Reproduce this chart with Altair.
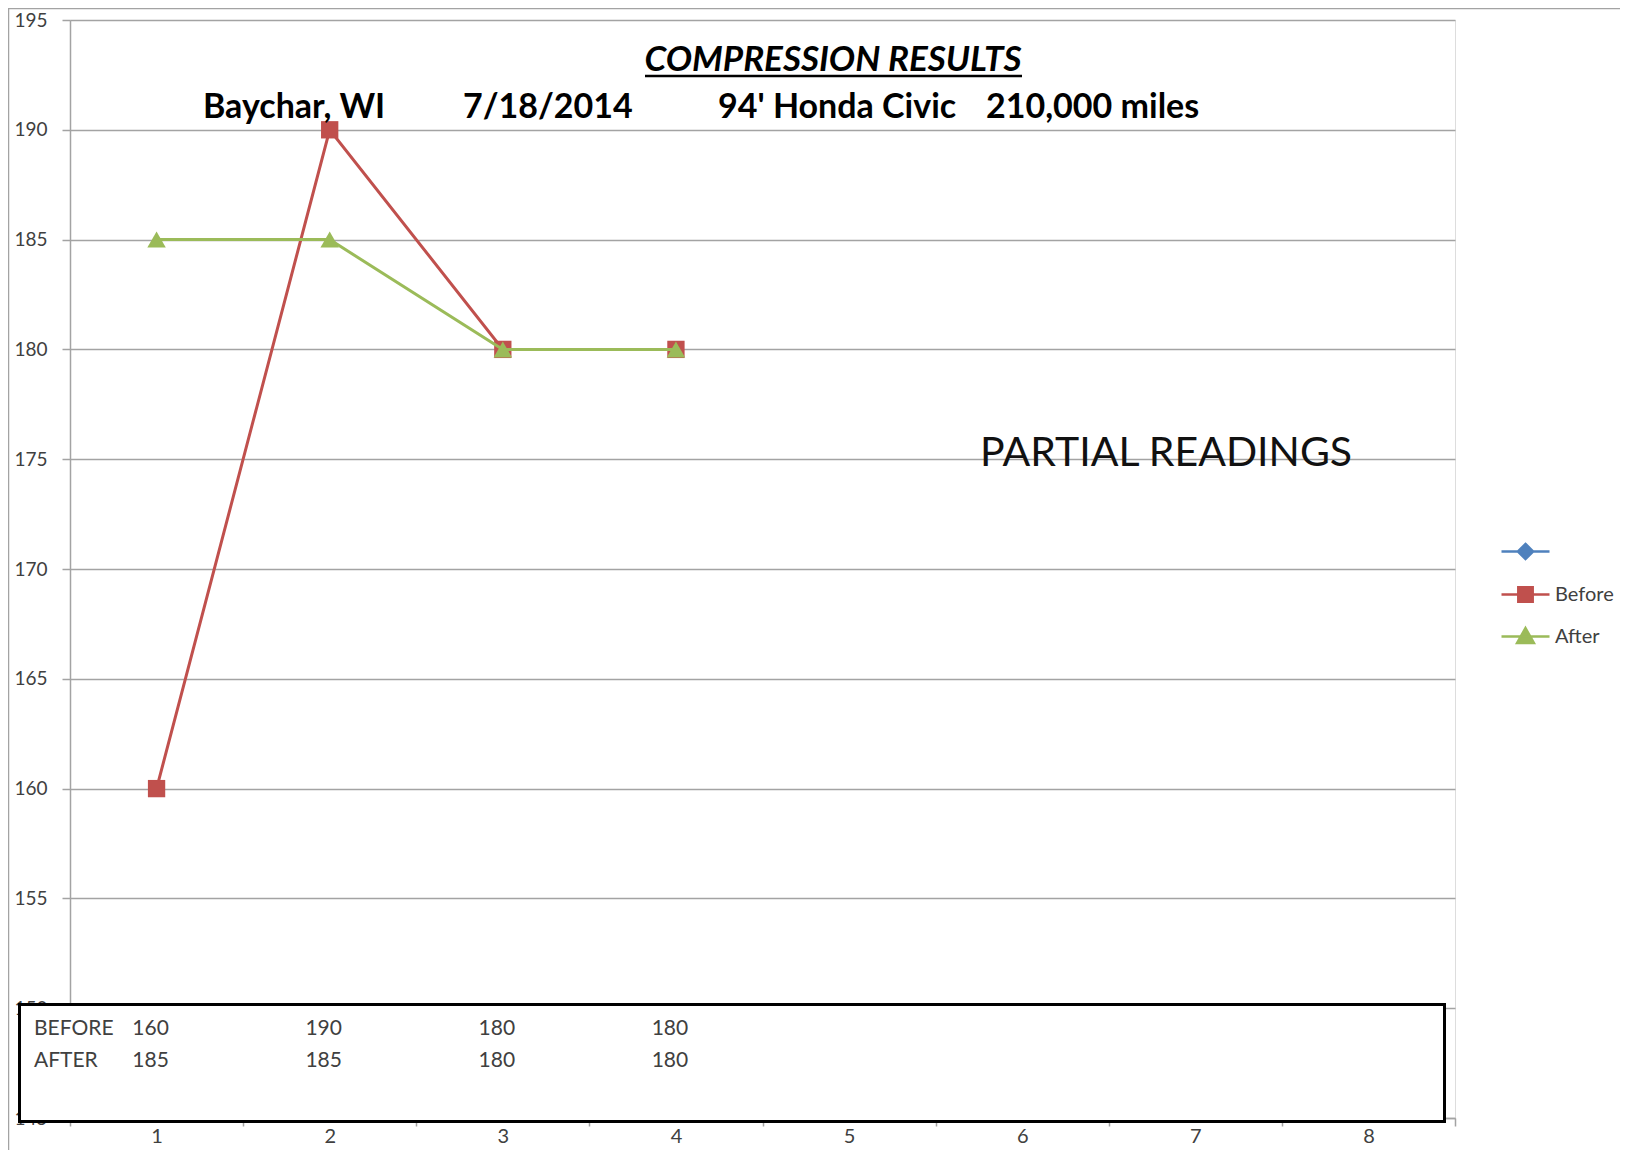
import altair as alt
import pandas as pd

# ---- data ----
cylinders = ["1", "2", "3", "4", "5", "6", "7", "8"]
tested = ["1", "2", "3", "4"]
before = [160, 190, 180, 180]
after = [185, 185, 180, 180]
y_ticks = [145, 150, 155, 160, 165, 170, 175, 180, 185, 190, 195]
legend_series = ["Series1", "Before", "After"]
legend_colors = ["#4F81BD", "#C0504D", "#9BBB59"]
title_text = "COMPRESSION RESULTS"
subtitle_parts = ["Baychar, WI", "7/18/2014", "94' Honda Civic", "210,000 miles"]
note_text = "PARTIAL READINGS"
table_labels = ["BEFORE", "AFTER"]

# ---- styling ----
FONT = "Lato"
GRAY = "#a3a3a3"
TXT = "#404040"
RED, GREEN = "#C0504D", "#9BBB59"
W, H = 1385, 1098

df_before = pd.DataFrame({"cyl": tested, "psi": before})
df_after = pd.DataFrame({"cyl": tested, "psi": after})
one = pd.DataFrame({"k": [0]})

x_enc = alt.X(
    "cyl:N",
    scale=alt.Scale(domain=cylinders, paddingInner=0, paddingOuter=0),
    axis=alt.Axis(
        title=None, labelAngle=0, labelFont=FONT, labelFontSize=20, labelColor=TXT,
        labelPadding=0, tickSize=8, tickColor=GRAY, tickWidth=1.5, tickBand="extent",
        domainColor=GRAY, domainWidth=1.5, grid=False,
    ),
)
y_enc = alt.Y(
    "psi:Q",
    scale=alt.Scale(domain=[145, 195], nice=False, zero=False),
    axis=alt.Axis(
        title=None, values=y_ticks, labelFont=FONT, labelFontSize=19, labelColor=TXT,
        labelPadding=15, tickSize=8, tickColor=GRAY, tickWidth=1.5,
        domainColor=GRAY, domainWidth=1.5, grid=True, gridColor=GRAY, gridWidth=1.5,
        labelOverlap=False,
    ),
)

frame = alt.Chart(one).mark_rect(fillOpacity=0, stroke=GRAY, strokeWidth=1.5).encode(
    x=alt.value(-61.5), x2=alt.value(3000), y=alt.value(-11.5), y2=alt.value(3000)
)

line_before = alt.Chart(df_before).mark_line(color=RED, strokeWidth=3).encode(x=x_enc, y=y_enc)
pts_before = alt.Chart(df_before).mark_point(
    shape="square", filled=True, size=300, color=RED, opacity=1
).encode(x=x_enc, y=y_enc)
line_after = alt.Chart(df_after).mark_line(color=GREEN, strokeWidth=3).encode(x=x_enc, y=y_enc)
pts_after = alt.Chart(df_after).mark_point(
    shape="triangle-up", filled=True, size=340, color=GREEN, opacity=1
).encode(x=x_enc, y=y_enc)

# data table box
box = alt.Chart(one).mark_rect(fill="white", stroke="black", strokeWidth=3).encode(
    x=alt.value(-50.5), x2=alt.value(1374.5), y=alt.value(984.5), y2=alt.value(1101.5)
)
row_before_lbl = alt.Chart(pd.DataFrame({"lab": [table_labels[0]]})).mark_text(
    align="left", baseline="middle", font=FONT, fontSize=21, color=TXT
).encode(text="lab:N", x=alt.value(-36), y=alt.value(1009))
row_after_lbl = alt.Chart(pd.DataFrame({"lab": [table_labels[1]]})).mark_text(
    align="left", baseline="middle", font=FONT, fontSize=21, color=TXT
).encode(text="lab:N", x=alt.value(-36), y=alt.value(1041))
vals_before = alt.Chart(df_before).mark_text(
    align="center", baseline="middle", font=FONT, fontSize=21, color=TXT, dx=-6
).encode(x=x_enc, y=alt.value(1009), text="psi:Q")
vals_after = alt.Chart(df_after).mark_text(
    align="center", baseline="middle", font=FONT, fontSize=21, color=TXT, dx=-6
).encode(x=x_enc, y=alt.value(1041), text="psi:Q")

# titles
title = alt.Chart(pd.DataFrame({"t": [title_text]})).mark_text(
    align="center", baseline="alphabetic", font=FONT, fontSize=35, fontWeight="bold",
    fontStyle="italic", color="black"
).encode(text="t:N", x=alt.value(763), y=alt.value(51))
underline = alt.Chart(one).mark_rule(color="black", strokeWidth=2.5).encode(
    x=alt.value(575), x2=alt.value(952), y=alt.value(56)
)
sub_x = [133, 393, 648, 916]
subs = [
    alt.Chart(pd.DataFrame({"t": [s]})).mark_text(
        align="left", baseline="alphabetic", font=FONT, fontSize=34, fontWeight="bold", color="black"
    ).encode(text="t:N", x=alt.value(px), y=alt.value(98))
    for s, px in zip(subtitle_parts, sub_x)
]
note = alt.Chart(pd.DataFrame({"t": [note_text]})).mark_text(
    align="left", baseline="alphabetic", font=FONT, fontSize=41, color="#111111"
).encode(text="t:N", x=alt.value(910), y=alt.value(446))

# legend (line + marker symbols)
paths = [
    "M-1.2,0L1.2,0M0,-0.38L0.38,0L0,0.38L-0.38,0Z",
    "M-1.2,0L1.2,0M-0.36,-0.36L0.36,-0.36L0.36,0.36L-0.36,0.36Z",
    "M-1.2,0L1.2,0M0,-0.42L0.42,0.32L-0.42,0.32Z",
]
leg = alt.Legend(
    title=None, orient="none", legendX=1434, legendY=510, symbolSize=1600,
    symbolStrokeWidth=2.5, labelFont=FONT, labelFontSize=20, labelColor=TXT,
    labelOffset=8, rowPadding=8, padding=0, symbolOpacity=1,
    labelExpr="datum.label == 'Series1' ? '' : datum.label",
)
legend_layer = alt.Chart(pd.DataFrame({"series": legend_series})).mark_point(
    filled=True, size=1600, strokeWidth=2.5, opacity=1
).encode(
    x=alt.value(-5000), y=alt.value(-5000),
    fill=alt.Fill("series:N", scale=alt.Scale(domain=legend_series, range=legend_colors), legend=leg),
    stroke=alt.Stroke("series:N", scale=alt.Scale(domain=legend_series, range=legend_colors), legend=leg),
    shape=alt.Shape("series:N", scale=alt.Scale(domain=legend_series, range=paths), legend=leg),
)

chart = alt.layer(
    frame, line_before, pts_before, line_after, pts_after,
    box, row_before_lbl, row_after_lbl, vals_before, vals_after,
    title, underline, *subs, note, legend_layer,
).properties(
    width=W, height=H,
    autosize=alt.AutoSizeParams(type="none"),
    padding={"left": 62, "top": 12, "right": 165, "bottom": 32},
).configure_view(strokeWidth=0).configure(background="white")

chart.save("out.html", embed_options={"renderer": "svg", "actions": False})
